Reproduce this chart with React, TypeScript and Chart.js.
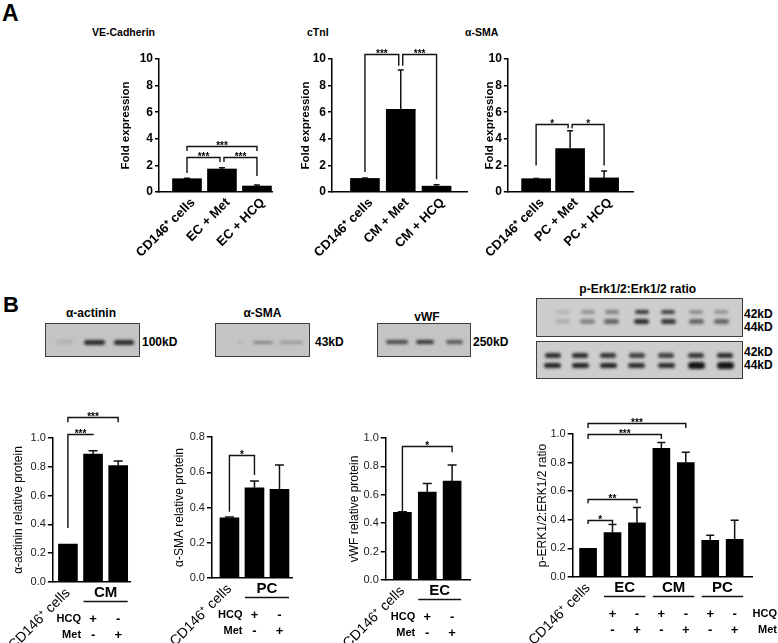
import React, { useEffect, useRef } from 'react';
import { Chart, registerables } from 'chart.js';

Chart.register(...registerables);

const FONT = '"Liberation Sans", Arial, Helvetica, sans-serif';

// ---------------- Panel A data ----------------
const veCategories = ['CD146⁺ cells', 'EC + Met', 'EC + HCQ'];
const veValues = [1.0, 1.73, 0.45];
const veErrors = [0.03, 0.1, 0.08];

const ctniCategories = ['CD146⁺ cells', 'CM + Met', 'CM + HCQ'];
const ctniValues = [1.02, 6.22, 0.44];
const ctniErrors = [0.04, 2.95, 0.1];

const asmaCategories = ['CD146⁺ cells', 'PC + Met', 'PC + HCQ'];
const asmaValues = [1.0, 3.27, 1.06];
const asmaErrors = [0.02, 1.33, 0.52];

const foldTicks = [0, 2, 4, 6, 8, 10];

// significance brackets: [fromBar, toBar, bracketTop, leftLegEnd, rightLegEnd, label]
const veBrackets: any[] = [
  [0, 1, 2.63, 1.43, 2.26, '***'],
  [1, 2, 2.63, 2.26, 1.2, '***'],
  [0, 2, 3.46, 3.08, 3.08, '***'],
];
const ctniBrackets: any[] = [
  [0, 1, 10.35, 1.5, 9.5, '***'],
  [1, 2, 10.35, 9.5, 0.95, '***'],
];
const asmaBrackets: any[] = [
  [0, 1, 5.15, 2.0, 4.8, '*'],
  [1, 2, 5.15, 4.8, 2.0, '*'],
];

// ---------------- Panel B data ----------------
const proteinCategories = ['CD146⁺ cells', '', ''];
const actininValues = [0.264, 0.889, 0.808];
const actininErrors = [0, 0.022, 0.032];
const smaValues = [0.342, 0.512, 0.503];
const smaErrors = [0.004, 0.038, 0.138];
const vwfValues = [0.476, 0.62, 0.696];
const vwfErrors = [0.004, 0.06, 0.114];

const ratioTicks = [0, 0.2, 0.4, 0.6, 0.8, 1.0];
const smaTicks = [0, 0.2, 0.4, 0.6, 0.8];

const hcqSigns = ['', '+', '-'];
const metSigns = ['', '-', '+'];
const cmGroup: any[] = [['CM', 1, 2]];
const pcGroup: any[] = [['PC', 1, 2]];
const ecGroup: any[] = [['EC', 1, 2]];

const actininBrackets: any[] = [
  [0, 1, 1.03, 0.375, 1.03, '***'],
  [0, 2, 1.144, 1.11, 1.11, '***'],
];
const smaBrackets: any[] = [[0, 1, 0.698, 0.376, 0.584, '*']];
const vwfBrackets: any[] = [[0, 2, 0.944, 0.48, 0.9, '*']];

const erkCategories = ['CD146⁺ cells', '', '', '', '', '', ''];
const erkValues = [0.2, 0.31, 0.378, 0.9, 0.8, 0.257, 0.264];
const erkErrors = [0, 0.057, 0.108, 0.04, 0.072, 0.035, 0.133];
const erkHcq = ['', '+', '-', '+', '-', '+', '-'];
const erkMet = ['', '-', '+', '-', '+', '-', '+'];
const erkGroups: any[] = [['EC', 1, 2], ['CM', 3, 4], ['PC', 5, 6]];
const erkBrackets: any[] = [
  [0, 4, 1.077, 1.042, 1.042, '***'],
  [0, 3, 1.0, 0.965, 0.965, '***'],
  [0, 2, 0.545, 0.516, 0.516, '**'],
  [0, 1, 0.397, 0.37, 0.37, '*'],
];

// ---------------- chart builder ----------------
type Spec = {
  left: number; top: number; width: number; height: number;
  yWidth: number; xHeight: number; padTop: number; padRight: number;
  xMin: number; xMax: number; barW: number;
  categories: string[]; values: number[]; errors: number[]; yTicks: number[];
  yDigits: number; yTitle: string;
  panelA: boolean;
  brackets: any[]; capW: number;
  groups?: any[]; hcq?: string[]; met?: string[]; rowRight?: boolean;
  labelOffset: number; xPad: number;
};

function buildConfig(s: Spec): any {
  const annot = {
    id: 'annot',
    afterDatasetsDraw(chart: any) {
      const { ctx, chartArea } = chart;
      const ys = chart.scales.y;
      const bars = chart.getDatasetMeta(0).data;
      ctx.save();
      ctx.strokeStyle = '#111';
      ctx.fillStyle = '#000';
      ctx.lineWidth = 1.5;
      // error bars (upper whisker)
      s.errors.forEach((e, i) => {
        if (!e) return;
        const b = bars[i];
        const yt = ys.getPixelForValue(s.values[i] + e);
        ctx.beginPath();
        ctx.moveTo(b.x, b.y);
        ctx.lineTo(b.x, yt);
        ctx.moveTo(b.x - s.capW / 2, yt);
        ctx.lineTo(b.x + s.capW / 2, yt);
        ctx.stroke();
      });
      // significance brackets
      ctx.lineWidth = 1.4;
      ctx.font = `bold 10px ${FONT}`;
      ctx.textAlign = 'center';
      ctx.textBaseline = 'alphabetic';
      s.brackets.forEach((br: any[]) => {
        const [a, b, top, la, lb, label] = br;
        let xa = bars[a].x;
        let xb = bars[b].x;
        if (s.brackets.some((q) => q !== br && q[2] === top && q[1] === a)) xa += 2;
        if (s.brackets.some((q) => q !== br && q[2] === top && q[0] === b)) xb -= 2;
        const yt = Math.round(ys.getPixelForValue(top)) + 0.5;
        ctx.beginPath();
        ctx.moveTo(xa, ys.getPixelForValue(la));
        ctx.lineTo(xa, yt);
        ctx.lineTo(xb, yt);
        ctx.lineTo(xb, ys.getPixelForValue(lb));
        ctx.stroke();
        ctx.fillText(label, (xa + xb) / 2, yt + 2);
      });
      // treatment groups below the axis
      if (s.groups) {
        const base = chartArea.bottom;
        s.groups.forEach(([lab, a, b]: any[]) => {
          const l = bars[a].x - bars[a].width / 2;
          const r = bars[b].x + bars[b].width / 2;
          ctx.font = `bold 15px ${FONT}`;
          ctx.textAlign = 'center';
          ctx.textBaseline = 'middle';
          ctx.fillText(lab, (l + r) / 2, base + 11);
          ctx.lineWidth = 1.5;
          ctx.beginPath();
          ctx.moveTo(l, base + 19.5);
          ctx.lineTo(r, base + 19.5);
          ctx.stroke();
        });
        const rows: any[] = [['HCQ', s.hcq, base + 37], ['Met', s.met, base + 53]];
        rows.forEach(([name, signs, yy]) => {
          ctx.textBaseline = 'middle';
          ctx.font = `bold 13px ${FONT}`;
          ctx.textAlign = 'center';
          (signs as string[]).forEach((sg, i) => {
            if (sg) ctx.fillText(sg, bars[i].x, yy);
          });
          ctx.font = `bold 11px ${FONT}`;
          ctx.textAlign = 'right';
          const lx = s.rowRight ? chart.width - 1 : bars[1].x - 12;
          ctx.fillText(name, lx, yy);
        });
      }
      ctx.restore();
    },
  };

  const axisW = 1.5;
  const tickFont = s.panelA
    ? { family: FONT, size: 12, weight: 'bold' }
    : { family: FONT, size: 11, weight: 'normal' };
  const titleFont = s.panelA
    ? { family: FONT, size: 11.5, weight: 'bold' }
    : { family: FONT, size: 12, weight: 'normal' };
  const xFont = s.panelA
    ? { family: FONT, size: 13, weight: 'bold' }
    : { family: FONT, size: 14, weight: 'normal' };

  return {
    type: 'bar',
    data: {
      datasets: [
        {
          data: s.values.map((v, i) => ({ x: i, y: v })),
          backgroundColor: '#000',
          borderWidth: 0,
          barThickness: s.barW,
        },
      ],
    },
    options: {
      animation: false,
      responsive: false,
      devicePixelRatio: 1,
      events: [],
      layout: { padding: { top: s.padTop, right: s.padRight, left: 0, bottom: 0 } },
      plugins: { legend: { display: false }, tooltip: { enabled: false }, title: { display: false } },
      scales: {
        x: {
          type: 'linear',
          min: s.xMin,
          max: s.xMax,
          offset: false,
          afterBuildTicks: (sc: any) => {
            sc.ticks = s.categories.map((_, i) => ({ value: i }));
          },
          afterFit: (sc: any) => {
            sc.height = s.xHeight;
          },
          grid: { display: false, drawTicks: false, offset: false },
          border: { display: true, color: '#000', width: axisW },
          ticks: {
            autoSkip: false,
            maxRotation: 45,
            minRotation: 45,
            padding: s.xPad,
            labelOffset: s.labelOffset,
            font: xFont,
            color: '#000',
            callback: (v: number) => s.categories[Math.round(v)] ?? '',
          },
        },
        y: {
          type: 'linear',
          min: s.yTicks[0],
          max: s.yTicks[s.yTicks.length - 1],
          afterBuildTicks: (sc: any) => {
            sc.ticks = s.yTicks.map((v) => ({ value: v }));
          },
          afterFit: (sc: any) => {
            sc.width = s.yWidth;
          },
          grid: { drawOnChartArea: false, drawTicks: true, tickLength: s.panelA ? 4 : 5, color: '#000', lineWidth: axisW },
          border: { display: true, color: '#000', width: axisW },
          ticks: {
            padding: 2,
            font: tickFont,
            color: s.panelA ? '#000' : '#222',
            callback: (v: number) => v.toFixed(s.yDigits),
          },
          title: {
            display: true,
            text: s.yTitle,
            font: titleFont,
            color: '#000',
            padding: { top: s.panelA ? 9 : 0, bottom: 0 },
          },
        },
      },
    },
    plugins: [annot],
  };
}

function ChartCanvas({ spec }: { spec: Spec }) {
  const ref = useRef<HTMLCanvasElement>(null);
  useEffect(() => {
    const chart = new Chart(ref.current as HTMLCanvasElement, buildConfig(spec));
    return () => chart.destroy();
  }, []);
  return (
    <canvas
      ref={ref}
      width={spec.width}
      height={spec.height}
      style={{ position: 'absolute', left: spec.left, top: spec.top, width: spec.width, height: spec.height }}
    />
  );
}

const specs: Spec[] = [
  {
    left: 110, top: 40, width: 166, height: 225, yWidth: 49, xHeight: 73, padTop: 19, padRight: 4,
    xMin: -0.8, xMax: 2.43, barW: 29, categories: veCategories, values: veValues, errors: veErrors,
    yTicks: foldTicks, yDigits: 0, yTitle: 'Fold expression', panelA: true, brackets: veBrackets, capW: 6,
    labelOffset: 6, xPad: 3,
  },
  {
    left: 290, top: 40, width: 181, height: 225, yWidth: 42, xHeight: 73, padTop: 19, padRight: 4,
    xMin: -0.92, xMax: 2.85, barW: 29, categories: ctniCategories, values: ctniValues, errors: ctniErrors,
    yTicks: foldTicks, yDigits: 0, yTitle: 'Fold expression', panelA: true, brackets: ctniBrackets, capW: 6,
    labelOffset: 6, xPad: 3,
  },
  {
    left: 471, top: 40, width: 166, height: 225, yWidth: 34, xHeight: 73, padTop: 19, padRight: 4,
    xMin: -0.83, xMax: 2.85, barW: 29, categories: asmaCategories, values: asmaValues, errors: asmaErrors,
    yTicks: foldTicks, yDigits: 0, yTitle: 'Fold expression', panelA: true, brackets: asmaBrackets, capW: 6,
    labelOffset: 6, xPad: 3,
  },
  {
    left: 0, top: 400, width: 134, height: 243, yWidth: 41, xHeight: 61, padTop: 38, padRight: 4,
    xMin: -0.6, xMax: 2.47, barW: 19, categories: proteinCategories, values: actininValues, errors: actininErrors,
    yTicks: ratioTicks, yDigits: 1, yTitle: 'α-actinin relative protein', panelA: false, brackets: actininBrackets,
    capW: 9, groups: cmGroup, hcq: hcqSigns, met: metSigns, labelOffset: 0, xPad: 3,
  },
  {
    left: 161, top: 400, width: 135, height: 243, yWidth: 39, xHeight: 65, padTop: 37, padRight: 4,
    xMin: -0.7, xMax: 2.5, barW: 19, categories: proteinCategories, values: smaValues, errors: smaErrors,
    yTicks: smaTicks, yDigits: 1, yTitle: 'α-SMA relative protein', panelA: false, brackets: smaBrackets,
    capW: 9, groups: pcGroup, hcq: hcqSigns, met: metSigns, labelOffset: 0, xPad: 3,
  },
  {
    left: 335, top: 400, width: 139, height: 243, yWidth: 38, xHeight: 63, padTop: 38, padRight: 4,
    xMin: -0.67, xMax: 2.72, barW: 18, categories: proteinCategories, values: vwfValues, errors: vwfErrors,
    yTicks: ratioTicks, yDigits: 1, yTitle: 'vWF relative protein', panelA: false, brackets: vwfBrackets,
    capW: 9, groups: ecGroup, hcq: hcqSigns, met: metSigns, labelOffset: 0, xPad: 3,
  },
  {
    left: 525, top: 400, width: 253, height: 243, yWidth: 37, xHeight: 66, padTop: 34, padRight: 26,
    xMin: -0.63, xMax: 6.71, barW: 17, categories: erkCategories, values: erkValues, errors: erkErrors,
    yTicks: ratioTicks, yDigits: 1, yTitle: 'p-ERK1/2:ERK1/2 ratio', panelA: false, brackets: erkBrackets,
    capW: 8, groups: erkGroups, hcq: erkHcq, met: erkMet, rowRight: true, labelOffset: 0, xPad: 3,
  },
];

// ---------------- text & blot helpers ----------------
function T({ x, y, size, children, center = false, bold = true }: any) {
  return (
    <div
      style={{
        position: 'absolute',
        left: x,
        top: y,
        fontFamily: FONT,
        fontSize: size,
        fontWeight: bold ? 'bold' : 'normal',
        lineHeight: 1,
        whiteSpace: 'nowrap',
        color: '#000',
        transform: center ? 'translateX(-50%)' : undefined,
      }}
    >
      {children}
    </div>
  );
}

// band: [centerX, centerY, width, height, darkness] relative to the blot box
function Blot({ x, y, w, h, bg, bands }: any) {
  return (
    <div
      style={{
        position: 'absolute',
        left: x,
        top: y,
        width: w,
        height: h,
        background: bg,
        border: '1px solid #3c3c3c',
        boxSizing: 'border-box',
        overflow: 'hidden',
      }}
    >
      {bands.map((b: number[], i: number) => (
        <div
          key={i}
          style={{
            position: 'absolute',
            left: b[0] - b[2] / 2,
            top: b[1] - b[3] / 2,
            width: b[2],
            height: b[3],
            background: `rgba(15,15,15,${b[4]})`,
            borderRadius: b[3] / 2,
            filter: 'blur(1.4px)',
          }}
        />
      ))}
    </div>
  );
}

const erkTopLanes = [25.7, 50.7, 74.7, 104.7, 131.3, 159, 184];
const erkTopUpper = [0.12, 0.3, 0.4, 0.8, 0.75, 0.35, 0.3];
const erkTopLower = [0.15, 0.38, 0.55, 0.85, 0.8, 0.55, 0.55];
const erkBotLanes = [15.7, 43, 71.3, 99.7, 129, 159, 188];
const erkBotUpper = [0.85, 0.85, 0.8, 0.75, 0.75, 0.8, 0.85];
const erkBotLower = [0.9, 0.9, 0.9, 0.85, 0.85, 0.97, 0.97];

export default function App() {
  const erkTopBands = [
    ...erkTopLanes.map((cx, i) => [cx, 13.4, 14, 4, erkTopUpper[i]]),
    ...erkTopLanes.map((cx, i) => [cx, 22.7, 15, 5, erkTopLower[i]]),
  ];
  const erkBotBands = [
    ...erkBotLanes.map((cx, i) => [cx, 13.3, 16, 5, erkBotUpper[i]]),
    ...erkBotLanes.map((cx, i) => [cx, 23.6, 17, i >= 5 ? 7 : 5, erkBotLower[i]]),
  ];
  return (
    <div
      style={{
        position: 'absolute',
        left: 0,
        top: 0,
        width: 778,
        height: 643,
        background: '#fff',
        overflow: 'hidden',
      }}
    >
      <T x={2} y={2} size={23}>A</T>
      <T x={3} y={294} size={22}>B</T>

      <T x={92} y={27} size={10.5}>VE-Cadherin</T>
      <T x={307} y={27} size={10.5}>cTnI</T>
      <T x={465} y={27} size={10.5}>α-SMA</T>

      {specs.map((s, i) => (
        <ChartCanvas key={i} spec={s} />
      ))}

      <T x={91} y={307.4} size={12} center>α-actinin</T>
      <T x={262.5} y={307.4} size={12} center>α-SMA</T>
      <T x={427} y={311} size={12} center>vWF</T>
      <T x={637.7} y={283.4} size={12} center>p-Erk1/2:Erk1/2 ratio</T>

      <Blot x={45} y={323} w={95} h={34} bg="#c4c4c4"
        bands={[[18.3, 18, 17, 4, 0.1], [48.7, 18, 21, 5, 0.85], [77.7, 18, 20, 5, 0.85]]} />
      <Blot x={215} y={323} w={95} h={34} bg="#c4c4c4"
        bands={[[24, 18.5, 5, 3, 0.12], [46.7, 18.5, 20, 3, 0.35], [75, 18.5, 23, 3, 0.25]]} />
      <Blot x={377} y={323} w={94} h={34} bg="#c4c4c4"
        bands={[[19, 18, 22, 4, 0.7], [47, 18, 18, 4, 0.8], [76.5, 18, 17, 4, 0.6]]} />
      <Blot x={536} y={298} w={207} h={39} bg="#cdcdcd" bands={erkTopBands} />
      <Blot x={536} y={341} w={207} h={38} bg="#cdcdcd" bands={erkBotBands} />

      <T x={142} y={335.7} size={12}>100kD</T>
      <T x={315} y={335.7} size={12}>43kD</T>
      <T x={473} y={335.7} size={12}>250kD</T>
      <T x={744} y={307.7} size={12}>42kD</T>
      <T x={744} y={321} size={12}>44kD</T>
      <T x={744} y={345.7} size={12}>42kD</T>
      <T x={744} y={359} size={12}>44kD</T>
    </div>
  );
}
